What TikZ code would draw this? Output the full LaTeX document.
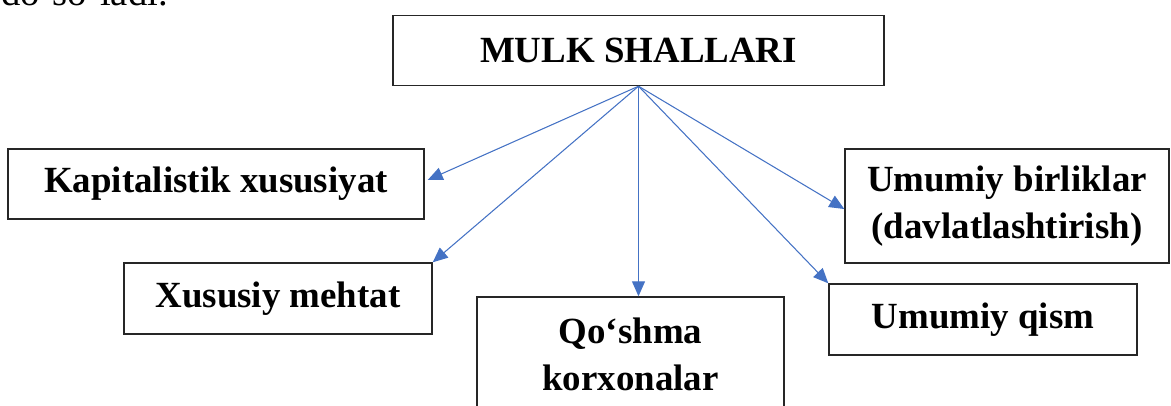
\documentclass[tikz,border=0pt]{standalone}
\usepackage{fontspec}
\setmainfont{Liberation Serif}
\usetikzlibrary{arrows.meta}
\usetikzlibrary{calc}
\usepackage{xcolor}
\definecolor{linkblue}{HTML}{4472C4}

\tikzset{
  box/.style={draw=black!85,line width=0.8pt,inner sep=0pt,align=center,
    font=\bfseries\fontsize{21}{26.7}\selectfont},
  link/.style={linkblue,line width=0.6pt,-{Triangle[length=0.3cm,width=0.26cm]}}
}

\begin{document}
\begin{tikzpicture}[scale=1]
    \useasboundingbox (0,0) rectangle (23.42,-8.1);
    \clip (0,0) rectangle (23.42,-8.1);

    \node[anchor=base west,inner sep=0pt,font=\fontsize{22}{26}\selectfont] (intro) at (0.02,-0.1) {do‘so‘ladi.};

    \node[box,minimum width=9.82cm,minimum height=1.4cm] (mulk) at (12.77,-1.01) {MULK SHALLARI};
    \node[box,minimum width=8.32cm,minimum height=1.4cm] (kapital) at (4.32,-3.68) {Kapitalistik xususiyat};
    \node[box,minimum width=6.16cm,minimum height=1.42cm] (xususiy) at (5.56,-5.97) {Xususiy mehtat};
    \node[box,minimum width=6.14cm,minimum height=2.28cm] (qoshma) at (12.61,-7.08) {Qo‘shma\\korxonalar};
    \node[box,minimum width=6.48cm,minimum height=2.28cm] (birlik) at (20.14,-4.12) {Umumiy birliklar\\(davlatlashtirish)};
    \node[box,minimum width=6.16cm,minimum height=1.42cm] (qism) at (19.66,-6.39) {Umumiy qism};

    \draw[link] (mulk.south) -- ($(kapital.east)+(0.06,0.08)$);
    \draw[link] (mulk.south) -- (xususiy.north east);
    \draw[link] (mulk.south) -- (mulk.south |- qoshma.north);
    \draw[link] (mulk.south) -- (qism.north west);
    \draw[link] (mulk.south) -- ($(birlik.west)+(0,-0.06)$);
\end{tikzpicture}
\end{document}
